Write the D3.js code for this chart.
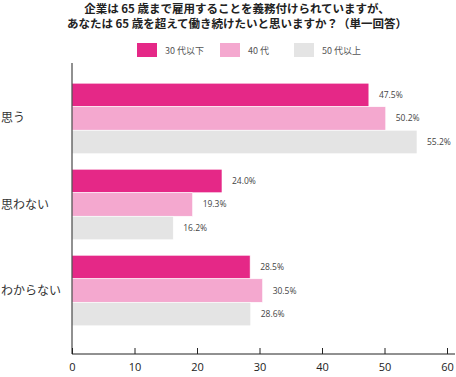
<!DOCTYPE html>
<html lang="ja">
<head>
<meta charset="UTF-8">
<script src="https://d3js.org/d3.v7.min.js"></script>
<style>
  html, body { margin: 0; padding: 0; background: #fff; }
  body { font-family: "Noto Sans CJK JP", "Noto Sans", sans-serif; }
</style>
</head>
<body>
<div id="chart"></div>
<script>
// answers and age groups
let categories = ['思う', '思わない', 'わからない'];
let series = ['30 代以下', '40 代', '50 代以上'];
let values30 = [47.5, 24.0, 28.5];
let values40 = [50.2, 19.3, 30.5];
let values50 = [55.2, 16.2, 28.6];
let xTicks = [0, 10, 20, 30, 40, 50, 60];
let colours = ['#e52887', '#f4a8cf', '#e4e4e4'];

let titleLines = ['企業は 65 歳まで雇用することを義務付けられていますが、',
                  'あなたは 65 歳を超えて働き続けたいと思いますか？（単一回答）'];

let width = 456, height = 377;
let svg = d3.select('#chart').append('svg').attr('width', width).attr('height', height);

let rows = categories.map((c, i) => ({ cat: c, vals: [values30[i], values40[i], values50[i]] }));

let x = d3.scaleLinear().domain([0, 60]).range([72, 447]);
let y = d3.scaleBand().domain(categories).range([66, 343]).paddingInner(0.18).paddingOuter(0.2);
let ySub = d3.scaleBand().domain(series).range([0, y.bandwidth()]);

// title
svg.append('g').selectAll('text')
    .data(titleLines)
    .join('text')
    .attr('x', 237)
    .attr('y', (d, i) => 13 + i * 14.5)
    .attr('text-anchor', 'middle')
    .attr('font-size', 11.5)
    .attr('font-weight', 'bold')
    .attr('fill', '#222')
    .text(d => d);

// legend
let legendX = [137, 220, 294];
let legend = svg.append('g').selectAll('g')
    .data(series)
    .join('g')
    .attr('transform', (d, i) => `translate(${legendX[i]},43)`);
legend.append('rect')
    .attr('width', 20).attr('height', 14)
    .attr('fill', (d, i) => colours[i]);
legend.append('text')
    .attr('x', 28).attr('y', 10.5)
    .attr('font-size', 9)
    .attr('fill', '#555')
    .text(d => d);

// bars
let groups = svg.append('g').selectAll('g')
    .data(rows)
    .join('g')
    .attr('transform', d => `translate(0,${y(d.cat)})`);

groups.selectAll('rect')
    .data(d => d.vals.map((v, i) => ({ key: series[i], v: v, i: i })))
    .join('rect')
    .attr('x', x(0))
    .attr('y', d => ySub(d.key))
    .attr('width', d => x(d.v) - x(0))
    .attr('height', ySub.bandwidth())
    .attr('fill', d => colours[d.i])
    .attr('stroke', '#fff')
    .attr('stroke-width', 0.6);

groups.selectAll('text.val')
    .data(d => d.vals.map((v, i) => ({ key: series[i], v: v, i: i })))
    .join('text')
    .attr('class', 'val')
    .attr('x', d => x(d.v) + 10)
    .attr('y', d => ySub(d.key) + ySub.bandwidth() / 2 + 3)
    .attr('font-family', '"Open Sans", sans-serif')
    .attr('font-size', 8.5)
    .attr('fill', '#444')
    .text(d => d.v.toFixed(1) + '%');

// category labels
svg.append('g').selectAll('text')
    .data(categories)
    .join('text')
    .attr('x', 1)
    .attr('y', d => y(d) + y.bandwidth() / 2 + 4)
    .attr('font-size', 12)
    .attr('fill', '#333')
    .text(d => d);

// axes
let axisY = 354;
let xAxis = svg.append('g')
    .attr('transform', `translate(0,${axisY})`)
    .call(d3.axisBottom(x).tickValues(xTicks).tickSize(-6).tickSizeOuter(0).tickPadding(9));
xAxis.select('.domain').remove();
xAxis.selectAll('line').attr('stroke', '#222');
xAxis.selectAll('text')
    .attr('font-family', '"Open Sans", sans-serif')
    .attr('font-size', 11)
    .attr('fill', '#222');

svg.append('line')
    .attr('x1', x(0)).attr('x2', 455)
    .attr('y1', axisY).attr('y2', axisY)
    .attr('stroke', '#222').attr('stroke-width', 1);
svg.append('line')
    .attr('x1', x(0)).attr('x2', x(0))
    .attr('y1', 63).attr('y2', axisY)
    .attr('stroke', '#222').attr('stroke-width', 1);
</script>
</body>
</html>
